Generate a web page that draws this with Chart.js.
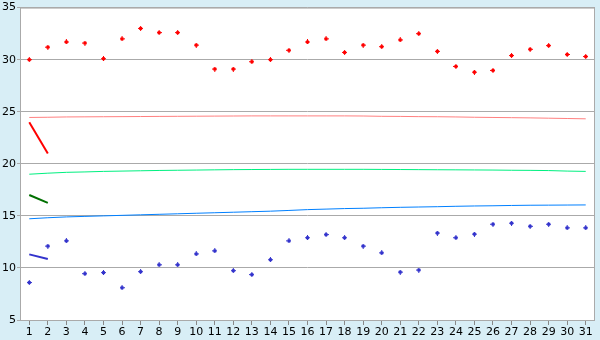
<!DOCTYPE html>
<html>
<head>
<meta charset="utf-8">
<script src="https://cdn.jsdelivr.net/npm/chart.js@4/dist/chart.umd.min.js"></script>
<style>
html,body{margin:0;padding:0;background:#d8eef6;}
canvas{display:block;}
</style>
</head>
<body>
<canvas id="c" width="600" height="340"></canvas>
<script>
const days = ['1','2','3','4','5','6','7','8','9','10','11','12','13','14','15','16','17','18','19','20','21','22','23','24','25','26','27','28','29','30','31'];
const yTicks = [5,10,15,20,25,30,35];

const maxTemps = [30.0,31.2,31.7,31.6,30.1,32.0,33.0,32.6,32.6,31.4,29.1,29.1,29.8,30.0,30.9,31.7,32.0,30.7,31.4,31.25,31.9,32.5,30.8,29.35,28.8,28.97,30.4,31.0,31.35,30.5,30.3];
const minTemps = [8.6,12.1,12.6,9.45,9.55,8.1,9.64,10.3,10.3,11.35,11.64,9.74,9.36,10.79,12.6,12.9,13.2,12.9,12.1,11.45,9.6,9.8,13.35,12.9,13.25,14.2,14.3,14.0,14.2,13.85,13.85];

const normalMax = [24.45,24.47,24.5,24.51,24.52,24.53,24.54,24.55,24.56,24.57,24.58,24.59,24.6,24.6,24.6,24.6,24.6,24.6,24.59,24.56,24.55,24.53,24.52,24.5,24.47,24.45,24.43,24.41,24.38,24.35,24.32];
const normalMean = [19.0,19.1,19.18,19.22,19.27,19.3,19.33,19.36,19.38,19.4,19.42,19.44,19.45,19.46,19.47,19.47,19.47,19.47,19.47,19.46,19.45,19.44,19.43,19.42,19.41,19.4,19.38,19.37,19.35,19.3,19.27];
const normalMin = [14.72,14.82,14.9,14.95,15.0,15.05,15.1,15.15,15.2,15.25,15.3,15.35,15.4,15.45,15.52,15.6,15.65,15.7,15.73,15.78,15.82,15.85,15.88,15.92,15.95,15.97,16.0,16.02,16.03,16.04,16.05];

const trendMax = [24.0,21.0];
const trendMean = [17.0,16.25];
const trendMin = [11.3,10.85];

function plusMarker(color){
  const c = document.createElement('canvas');
  c.width = 5; c.height = 5;
  const g = c.getContext('2d');
  g.fillStyle = color;
  g.fillRect(2,0,1,5);
  g.fillRect(1,1,3,3);
  g.fillRect(0,2,5,1);
  return c;
}

const frame = {
  id:'frame',
  beforeDraw(chart){
    const {ctx, chartArea:a} = chart;
    ctx.save();
    ctx.fillStyle = '#d8eef6';
    ctx.fillRect(0,0,chart.width,chart.height);
    ctx.fillStyle = '#ffffff';
    ctx.fillRect(a.left,a.top,a.right-a.left,a.bottom-a.top);
    ctx.restore();
  },
  afterDraw(chart){
    const {ctx, chartArea:a} = chart;
    ctx.save();
    ctx.strokeStyle = '#aaaaaa';
    ctx.lineWidth = 1;
    ctx.strokeRect(a.left+0.5,a.top+0.5,a.right-a.left-1,a.bottom-a.top);
    ctx.restore();
  }
};

const lineDs = (data,color,w) => ({type:'line',data,borderColor:color,borderWidth:w,pointRadius:0,tension:0,fill:false,spanGaps:false});
const ptDs = (data,color) => ({type:'line',data,showLine:false,pointStyle:plusMarker(color),pointRadius:3,borderColor:color,backgroundColor:color});

new Chart(document.getElementById('c'),{
  type:'line',
  data:{
    labels:days,
    datasets:[
      lineDs(normalMax,'rgb(255,128,128)',1),
      lineDs(normalMean,'rgb(0,240,128)',1),
      lineDs(normalMin,'rgb(0,128,255)',1),
      lineDs(trendMax,'#ff0000',2),
      lineDs(trendMean,'#007000',2),
      lineDs(trendMin,'#3333cc',2),
      ptDs(maxTemps,'#ff0000'),
      ptDs(minTemps,'#3333cc')
    ]
  },
  options:{
    responsive:false,
    animation:false,
    layout:{padding:{top:5,right:4,left:0,bottom:0}},
    plugins:{legend:{display:false},tooltip:{enabled:false}},
    scales:{
      x:{
        type:'category',
        offset:true,
        grid:{drawOnChartArea:false,drawTicks:true,tickLength:5,offset:false,color:'#888888'},
        border:{display:false},
        ticks:{color:'#000',font:{family:'DejaVu Sans',size:11},padding:1,maxRotation:0,autoSkip:false},
        afterFit(s){s.height=20;}
      },
      y:{
        min:5,max:35,
        afterBuildTicks(s){s.ticks = yTicks.map(v=>({value:v}));},
        grid:{color:'#aaaaaa',drawTicks:true,tickLength:3},
        border:{display:false},
        ticks:{color:'#000',font:{family:'DejaVu Sans',size:11},padding:1},
        afterFit(s){s.width=20;}
      }
    }
  },
  plugins:[frame]
});
</script>
</body>
</html>
